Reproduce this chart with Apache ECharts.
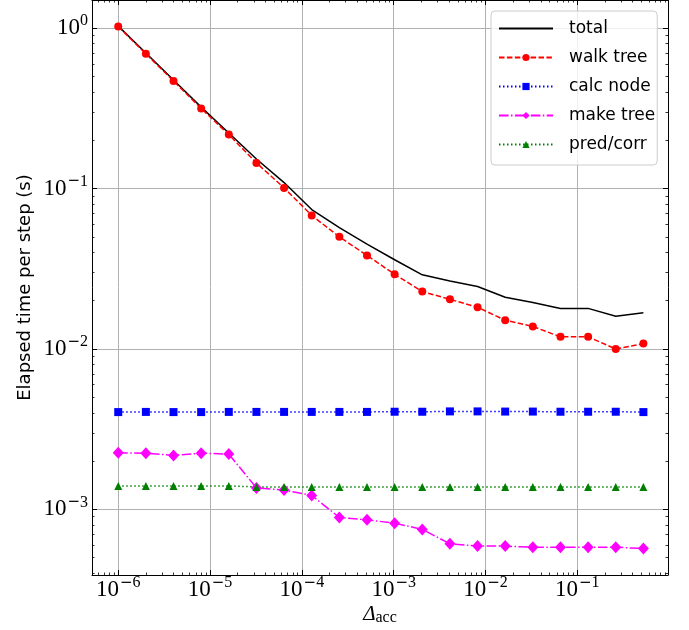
<!DOCTYPE html>
<html>
<head>
<meta charset="utf-8">
<script src="https://cdn.jsdelivr.net/npm/echarts@6/dist/echarts.min.js"></script>
<style>
    html, body { margin: 0; padding: 0; background: #fff; }
    #chart { width: 689px; height: 630px; }
</style>
</head>
<body>
<div id="chart"></div>
<script>
    // accuracy parameter (x)
    var deltaAcc = [1e-6, 2e-6, 4e-6, 8e-6, 1.6e-5, 3.2e-5, 6.4e-5, 1.28e-4, 2.56e-4, 5.12e-4,
        1.024e-3, 2.048e-3, 4.096e-3, 8.192e-3, 1.6384e-2, 3.2768e-2, 6.5536e-2, 0.131072, 0.262144, 0.524288]

    // elapsed time per step (s)
    var total = [1.03, 0.70, 0.475, 0.322, 0.222, 0.153, 0.109, 0.074, 0.057, 0.045,
        0.036, 0.029, 0.0265, 0.0245, 0.021, 0.0195, 0.0179, 0.0179, 0.0160, 0.0168]
    var walkTree = [1.023, 0.692, 0.468, 0.316, 0.217, 0.1445, 0.101, 0.068, 0.050, 0.0383,
        0.0292, 0.0228, 0.0204, 0.0182, 0.0151, 0.0138, 0.0119, 0.0119, 0.0100, 0.0108]
    var calcNode = [0.00404, 0.00405, 0.00404, 0.00404, 0.00405, 0.00405, 0.00405, 0.00405, 0.00405, 0.00405,
        0.00406, 0.00406, 0.00408, 0.00408, 0.00407, 0.00407, 0.00406, 0.00406, 0.00406, 0.00404]
    var makeTree = [0.00225, 0.00224, 0.00217, 0.00224, 0.00221, 0.00136, 0.00132, 0.00122, 0.00089, 0.00086,
        0.00082, 0.00075, 0.00061, 0.00059, 0.00059, 0.00058, 0.00058, 0.00058, 0.00058, 0.00057]
    var predCorr = [0.00140, 0.00140, 0.00140, 0.00140, 0.00140, 0.00138, 0.00138, 0.00138, 0.00138, 0.00138,
        0.00138, 0.00138, 0.00138, 0.00138, 0.00138, 0.00138, 0.00138, 0.00138, 0.00138, 0.00138]

    // axis ranges and tick values
    var xRange = [5.18e-7, 0.9715]
    var yRange = [3.896e-4, 1.4988]
    var xMinorTicks = [6e-7, 7e-7, 8e-7, 9e-7,
        2e-6, 3e-6, 4e-6, 5e-6, 6e-6, 7e-6, 8e-6, 9e-6,
        2e-5, 3e-5, 4e-5, 5e-5, 6e-5, 7e-5, 8e-5, 9e-5,
        2e-4, 3e-4, 4e-4, 5e-4, 6e-4, 7e-4, 8e-4, 9e-4,
        2e-3, 3e-3, 4e-3, 5e-3, 6e-3, 7e-3, 8e-3, 9e-3,
        2e-2, 3e-2, 4e-2, 5e-2, 6e-2, 7e-2, 8e-2, 9e-2,
        0.2, 0.3, 0.4, 0.5, 0.6, 0.7, 0.8, 0.9]
    var yMinorTicks = [4e-4, 5e-4, 6e-4, 7e-4, 8e-4, 9e-4,
        2e-3, 3e-3, 4e-3, 5e-3, 6e-3, 7e-3, 8e-3, 9e-3,
        2e-2, 3e-2, 4e-2, 5e-2, 6e-2, 7e-2, 8e-2, 9e-2,
        0.2, 0.3, 0.4, 0.5, 0.6, 0.7, 0.8, 0.9]

    var serif = 'Liberation Serif'
    var sans = 'DejaVu Sans'

    function pairs(ys) {
        return ys.map(function (y, i) { return [deltaAcc[i], y] })
    }

    // 10^n labels, only at whole decades
    function powLabel(v) {
        var e = Math.log10(v)
        var n = Math.round(e)
        if (Math.abs(e - n) > 1e-6) return ''
        return '{b|10}' + (n < 0 ? '{m|\u2212}' : '') + '{s|' + Math.abs(n) + '}'
    }
    var labelRich = {
        b: { fontFamily: serif, fontSize: 23, color: '#000', lineHeight: 26 },
        m: { fontFamily: sans, fontSize: 15, color: '#000', padding: [0, 0, 14, 1] },
        s: { fontFamily: serif, fontSize: 16, color: '#000', padding: [0, 0, 14, 0] }
    }

    function majorAxis(pos, range, showLabel, extra) {
        var ax = {
            type: 'log',
            position: pos,
            min: range[0],
            max: range[1],
            nameMoveOverlap: false,
            axisLine: { show: true, lineStyle: { color: '#000', width: 1 } },
            axisTick: { show: true, inside: true, length: 5, lineStyle: { color: '#000', width: 1 } },
            axisLabel: { show: showLabel, formatter: powLabel, rich: labelRich, margin: 4, color: '#000' },
            splitLine: { show: showLabel, lineStyle: { color: '#b0b0b0', width: 1 } }
        }
        return Object.assign(ax, extra || {})
    }
    function minorAxis(pos, range, ticks) {
        return {
            type: 'log',
            position: pos,
            min: range[0],
            max: range[1],
            axisLine: { show: false },
            axisTick: { show: true, inside: true, length: 2.5, customValues: ticks, lineStyle: { color: '#000', width: 0.8 } },
            axisLabel: { show: false },
            splitLine: { show: false }
        }
    }

    var chart = echarts.init(document.getElementById('chart'))
    chart.setOption({
        animation: false,
        grid: { left: 92, right: 21, top: 0, bottom: 55, outerBoundsMode: 'none' },
        legend: {
            orient: 'vertical',
            left: 491,
            top: 11,
            padding: [7, 2, 10, 7],
            itemWidth: 54,
            itemHeight: 9,
            itemGap: 8,
            backgroundColor: 'rgba(255,255,255,0.8)',
            borderColor: '#cccccc',
            borderWidth: 1,
            borderRadius: 4,
            textStyle: { fontFamily: sans, fontSize: 17, color: '#000', lineHeight: 21, padding: [0, 0, 0, 11] },
            data: [
                { name: 'total', itemStyle: { opacity: 0 } },
                'walk tree', 'calc node', 'make tree', 'pred/corr'
            ]
        },
        xAxis: [
            majorAxis('bottom', xRange, true, {
                axisLabel: { show: true, formatter: powLabel, rich: labelRich, margin: 0, color: '#000' },
                name: '{d|\u0394}{a|acc}',
                nameLocation: 'middle',
                nameGap: 28,
                nameTextStyle: {
                    rich: {
                        d: { fontFamily: serif, fontStyle: 'italic', fontSize: 21, color: '#000' },
                        a: { fontFamily: serif, fontSize: 16, color: '#000', padding: [7, 0, 0, 0] }
                    }
                }
            }),
            minorAxis('bottom', xRange, xMinorTicks),
            majorAxis('top', xRange, false),
            minorAxis('top', xRange, xMinorTicks)
        ],
        yAxis: [
            majorAxis('left', yRange, true, {
                name: 'Elapsed time per step (s)',
                nameLocation: 'middle',
                nameGap: 58,
                nameTextStyle: { fontFamily: sans, fontSize: 18, color: '#000' }
            }),
            minorAxis('left', yRange, yMinorTicks),
            majorAxis('right', yRange, false),
            minorAxis('right', yRange, yMinorTicks)
        ],
        series: [
            {
                name: 'total', type: 'line', data: pairs(total),
                showSymbol: false, symbol: 'none',
                lineStyle: { color: '#000', width: 1.5, type: 'solid' },
                itemStyle: { color: '#000' }
            },
            {
                name: 'walk tree', type: 'line', data: pairs(walkTree),
                symbol: 'circle', symbolSize: 8,
                lineStyle: { color: '#ff0000', width: 1.5, type: [5.5, 2.4] },
                itemStyle: { color: '#ff0000' }
            },
            {
                name: 'calc node', type: 'line', data: pairs(calcNode),
                symbol: 'rect', symbolSize: 8,
                lineStyle: { color: '#0000ff', width: 1.5, type: [1.5, 2.5] },
                itemStyle: { color: '#0000ff' }
            },
            {
                name: 'make tree', type: 'line', data: pairs(makeTree),
                symbol: 'diamond', symbolSize: [11, 12],
                lineStyle: { color: '#ff00ff', width: 1.5, type: [9.6, 2.4, 1.5, 2.4] },
                itemStyle: { color: '#ff00ff' }
            },
            {
                name: 'pred/corr', type: 'line', data: pairs(predCorr),
                symbol: 'triangle', symbolSize: 8,
                lineStyle: { color: '#008000', width: 1.5, type: [1.5, 2.5] },
                itemStyle: { color: '#008000' }
            }
        ]
    })
</script>
</body>
</html>
